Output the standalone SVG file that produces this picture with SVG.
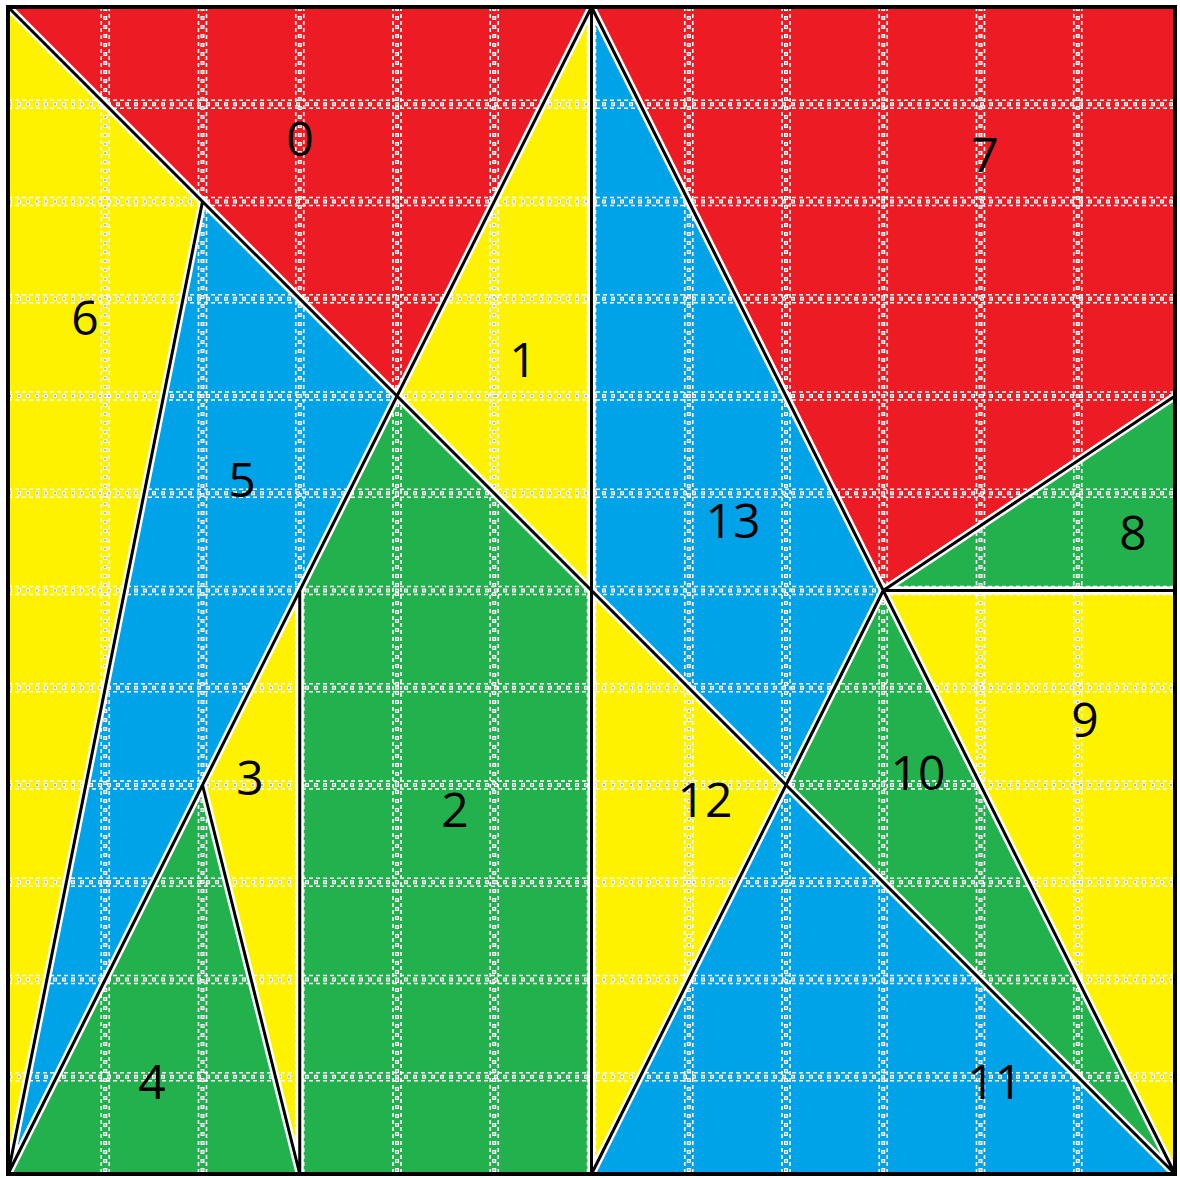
<svg xmlns="http://www.w3.org/2000/svg" xmlns:xlink="http://www.w3.org/1999/xlink" width="1180" height="1178" viewBox="0 0 1180 1178">
<style>
.r{fill:#ED1C24}.y{fill:#FFF200}.b{fill:#00A2E8}.g{fill:#22B14C}
.lbl{font-family:"Open Sans","Liberation Sans",sans-serif;font-size:48px;fill:#000;text-anchor:middle}
.halo{stroke:#fff;stroke-width:8;fill:none;stroke-linecap:round}
.edge{stroke:#000;stroke-width:3;fill:none;stroke-linecap:round}
.gw1{stroke:#fff;stroke-width:1.6;stroke-dasharray:4 3;fill:none}
.gc{stroke:#fff;stroke-width:4;stroke-dasharray:4 5;fill:none}
.gg{stroke:#b4b4b4;stroke-width:2;stroke-dasharray:2 7;stroke-dashoffset:-1;fill:none}
</style>
<defs>
<path id="gridpath" d="M105.25 7V1174M202.5 7V1174M299.75 7V1174M397 7V1174M494.25 7V1174M591.5 7V1174M688.75 7V1174M786 7V1174M883.25 7V1174M980.5 7V1174M1077.75 7V1174M8 104.25H1175M8 201.5H1175M8 298.75H1175M8 396H1175M8 493.25H1175M8 590.5H1175M8 687.75H1175M8 785H1175M8 882.25H1175M8 979.5H1175M8 1076.75H1175"/>
<path id="gridL" d="M101.25 7V1174M198.5 7V1174M295.75 7V1174M393 7V1174M490.25 7V1174M587.5 7V1174M684.75 7V1174M782 7V1174M879.25 7V1174M976.5 7V1174M1073.75 7V1174M8 100.25H1175M8 197.5H1175M8 294.75H1175M8 392H1175M8 489.25H1175M8 586.5H1175M8 683.75H1175M8 781H1175M8 878.25H1175M8 975.5H1175M8 1072.75H1175"/>
<path id="gridR" d="M109.25 7V1174M206.5 7V1174M303.75 7V1174M401 7V1174M498.25 7V1174M595.5 7V1174M692.75 7V1174M790 7V1174M887.25 7V1174M984.5 7V1174M1081.75 7V1174M8 108.25H1175M8 205.5H1175M8 302.75H1175M8 400H1175M8 497.25H1175M8 594.5H1175M8 691.75H1175M8 789H1175M8 886.25H1175M8 983.5H1175M8 1080.75H1175"/>
<path id="cuts" d="M8 7L1175 1174M591.5 7L8 1174M202.5 201.5L8 1174M299.75 590.5V1174M202.5 785L299.75 1174M591.5 7V1174M591.5 7L1175 1174M883.25 590.5L1175 396M883.25 590.5H1175M883.25 590.5L591.5 1174"/>
</defs>
<rect width="1180" height="1178" fill="#fff"/>
<g id="pieces">
<g id="p0"><polygon class="r" points="8,7 591.5,7 397,396"/></g>
<g id="p1"><polygon class="y" points="591.5,7 397,396 591.5,590.5"/></g>
<g id="p2"><polygon class="g" points="397,396 591.5,590.5 591.5,1174 299.75,1174 299.75,590.5"/></g>
<g id="p3"><polygon class="y" points="299.75,590.5 202.5,785 299.75,1174"/></g>
<g id="p4"><polygon class="g" points="202.5,785 8,1174 299.75,1174"/></g>
<g id="p5"><polygon class="b" points="202.5,201.5 397,396 8,1174"/></g>
<g id="p6"><polygon class="y" points="8,7 202.5,201.5 8,1174"/></g>
<g id="p7"><polygon class="r" points="591.5,7 1175,7 1175,396 883.25,590.5"/></g>
<g id="p8"><polygon class="g" points="883.25,590.5 1175,396 1175,590.5"/></g>
<g id="p9"><polygon class="y" points="883.25,590.5 1175,590.5 1175,1174"/></g>
<g id="p10"><polygon class="g" points="883.25,590.5 786,785 1175,1174"/></g>
<g id="p11"><polygon class="b" points="786,785 1175,1174 591.5,1174"/></g>
<g id="p12"><polygon class="y" points="591.5,590.5 786,785 591.5,1174"/></g>
<g id="p13"><polygon class="b" points="591.5,7 883.25,590.5 786,785 591.5,590.5"/></g>
</g>
<g id="grid">
<use xlink:href="#gridL" class="gw1"/>
<use xlink:href="#gridR" class="gw1"/>
<use xlink:href="#gridpath" class="gc"/>
<use xlink:href="#gridpath" class="gg"/>
</g>
<g id="connectors">
<use xlink:href="#cuts" class="halo"/>
<use xlink:href="#cuts" class="edge"/>
<rect x="8" y="7" width="1167" height="1167" fill="none" stroke="#000" stroke-width="4"/>
</g>
<g id="labels">
<text class="lbl" x="300" y="156">0</text>
<text class="lbl" x="523" y="377">1</text>
<text class="lbl" x="455" y="827">2</text>
<text class="lbl" x="250" y="795">3</text>
<text class="lbl" x="152" y="1099">4</text>
<text class="lbl" x="242" y="497">5</text>
<text class="lbl" x="85" y="335">6</text>
<text class="lbl" x="985" y="172">7</text>
<text class="lbl" x="1133" y="550">8</text>
<text class="lbl" x="1085" y="737">9</text>
<text class="lbl" x="918" y="790">10</text>
<text class="lbl" x="995" y="1099">11</text>
<text class="lbl" x="705" y="817">12</text>
<text class="lbl" x="733" y="538">13</text>
</g>
</svg>
